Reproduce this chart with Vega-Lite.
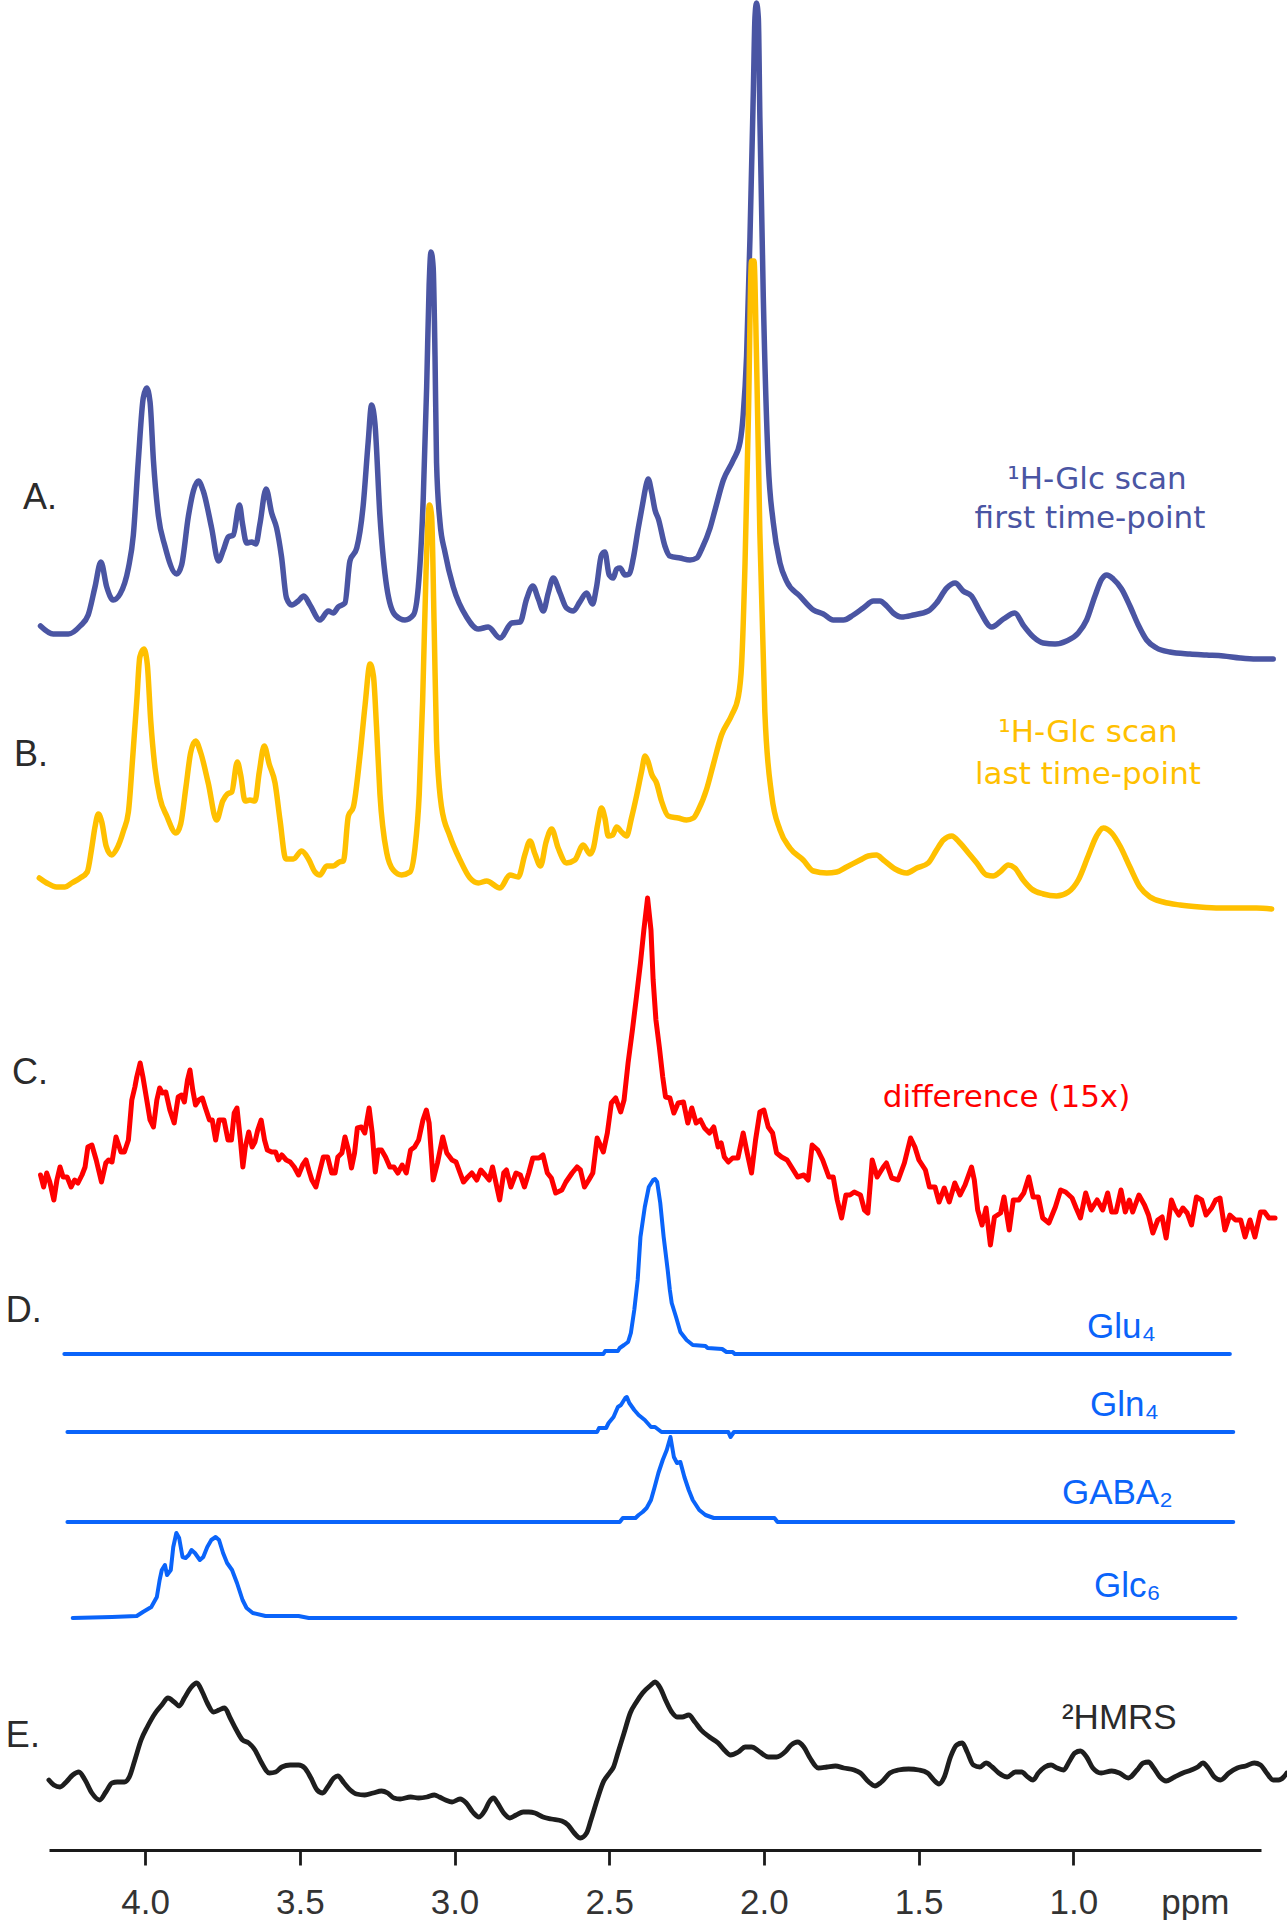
{
  "$schema": "https://vega.github.io/schema/vega-lite/v6.json",
  "autosize": {"type": "none"},
  "padding": {"left": 49, "top": 0, "right": 26, "bottom": 70},
  "width": 1212,
  "height": 1850,
  "background": "white",
  "config": {"view": {"stroke": null}, "font": "Liberation Sans"},
  "datasets": {
    "A": [{"ppm":4.338,"signal":122.4},{"ppm":4.297,"signal":121.6},{"ppm":4.248,"signal":121.6},{"ppm":4.210,"signal":122.4},{"ppm":4.184,"signal":123.5},{"ppm":4.162,"signal":126.3},{"ppm":4.143,"signal":128.8},{"ppm":4.124,"signal":126.3},{"ppm":4.103,"signal":125.0},{"ppm":4.081,"signal":125.6},{"ppm":4.054,"signal":128.2},{"ppm":4.038,"signal":131.5},{"ppm":4.022,"signal":138.9},{"ppm":4.006,"signal":145.2},{"ppm":3.995,"signal":146.2},{"ppm":3.984,"signal":144.8},{"ppm":3.973,"signal":138.9},{"ppm":3.957,"signal":133.4},{"ppm":3.936,"signal":130.4},{"ppm":3.898,"signal":127.6},{"ppm":3.882,"signal":128.5},{"ppm":3.860,"signal":133.4},{"ppm":3.844,"signal":135.9},{"ppm":3.828,"signal":136.9},{"ppm":3.812,"signal":135.9},{"ppm":3.785,"signal":132.2},{"ppm":3.763,"signal":128.9},{"ppm":3.747,"signal":130.0},{"ppm":3.731,"signal":131.3},{"ppm":3.715,"signal":131.5},{"ppm":3.695,"signal":134.5},{"ppm":3.685,"signal":132.6},{"ppm":3.672,"signal":130.7},{"ppm":3.656,"signal":130.8},{"ppm":3.642,"signal":130.6},{"ppm":3.629,"signal":132.6},{"ppm":3.609,"signal":136.1},{"ppm":3.591,"signal":133.7},{"ppm":3.575,"signal":132.2},{"ppm":3.559,"signal":129.3},{"ppm":3.543,"signal":125.2},{"ppm":3.526,"signal":124.5},{"ppm":3.505,"signal":124.9},{"ppm":3.487,"signal":125.4},{"ppm":3.467,"signal":124.5},{"ppm":3.435,"signal":123.0},{"ppm":3.408,"signal":123.9},{"ppm":3.392,"signal":123.7},{"ppm":3.376,"signal":124.3},{"ppm":3.354,"signal":124.7},{"ppm":3.338,"signal":128.9},{"ppm":3.316,"signal":130.2},{"ppm":3.295,"signal":134.5},{"ppm":3.279,"signal":140.8},{"ppm":3.268,"signal":144.5},{"ppm":3.257,"signal":142.6},{"ppm":3.241,"signal":133.4},{"ppm":3.219,"signal":126.3},{"ppm":3.192,"signal":123.5},{"ppm":3.160,"signal":123.0},{"ppm":3.133,"signal":123.5},{"ppm":3.117,"signal":126.3},{"ppm":3.101,"signal":135.2},{"ppm":3.090,"signal":146.3},{"ppm":3.082,"signal":156.5},{"ppm":3.076,"signal":159.8},{"ppm":3.069,"signal":158.3},{"ppm":3.063,"signal":149.4},{"ppm":3.058,"signal":138.7},{"ppm":3.047,"signal":132.8},{"ppm":3.031,"signal":129.8},{"ppm":3.004,"signal":126.3},{"ppm":2.961,"signal":123.3},{"ppm":2.923,"signal":122.1},{"ppm":2.891,"signal":122.3},{"ppm":2.853,"signal":121.2},{"ppm":2.815,"signal":122.7},{"ppm":2.788,"signal":122.8},{"ppm":2.767,"signal":125.1},{"ppm":2.747,"signal":126.4},{"ppm":2.729,"signal":125.1},{"ppm":2.713,"signal":123.9},{"ppm":2.697,"signal":125.7},{"ppm":2.681,"signal":127.2},{"ppm":2.659,"signal":125.7},{"ppm":2.638,"signal":124.2},{"ppm":2.616,"signal":123.9},{"ppm":2.595,"signal":124.8},{"ppm":2.573,"signal":125.7},{"ppm":2.554,"signal":124.6},{"ppm":2.541,"signal":126.3},{"ppm":2.525,"signal":129.5},{"ppm":2.514,"signal":129.8},{"ppm":2.500,"signal":127.5},{"ppm":2.487,"signal":127.2},{"ppm":2.476,"signal":128.1},{"ppm":2.465,"signal":128.2},{"ppm":2.449,"signal":127.5},{"ppm":2.435,"signal":127.6},{"ppm":2.422,"signal":129.2},{"ppm":2.406,"signal":132.2},{"ppm":2.392,"signal":134.6},{"ppm":2.379,"signal":136.7},{"ppm":2.374,"signal":137.1},{"ppm":2.363,"signal":135.8},{"ppm":2.352,"signal":134.0},{"ppm":2.341,"signal":133.1},{"ppm":2.320,"signal":130.4},{"ppm":2.304,"signal":129.4},{"ppm":2.271,"signal":129.2},{"ppm":2.239,"signal":129.0},{"ppm":2.217,"signal":129.2},{"ppm":2.201,"signal":130.1},{"ppm":2.174,"signal":132.2},{"ppm":2.158,"signal":134.0},{"ppm":2.131,"signal":137.0},{"ppm":2.099,"signal":139.0},{"ppm":2.077,"signal":140.8},{"ppm":2.067,"signal":143.5},{"ppm":2.056,"signal":149.4},{"ppm":2.045,"signal":161.3},{"ppm":2.034,"signal":176.1},{"ppm":2.029,"signal":183.2},{"ppm":2.024,"signal":184.7},{"ppm":2.018,"signal":183.2},{"ppm":2.013,"signal":173.1},{"ppm":2.002,"signal":155.3},{"ppm":1.986,"signal":138.7},{"ppm":1.970,"signal":132.8},{"ppm":1.948,"signal":128.7},{"ppm":1.927,"signal":126.9},{"ppm":1.884,"signal":125.4},{"ppm":1.840,"signal":124.0},{"ppm":1.808,"signal":123.6},{"ppm":1.776,"signal":123.0},{"ppm":1.743,"signal":123.0},{"ppm":1.711,"signal":123.5},{"ppm":1.679,"signal":124.2},{"ppm":1.646,"signal":124.9},{"ppm":1.625,"signal":124.9},{"ppm":1.603,"signal":124.4},{"ppm":1.582,"signal":123.7},{"ppm":1.555,"signal":123.3},{"ppm":1.517,"signal":123.5},{"ppm":1.469,"signal":123.9},{"ppm":1.442,"signal":124.7},{"ppm":1.409,"signal":126.2},{"ppm":1.382,"signal":126.7},{"ppm":1.356,"signal":125.9},{"ppm":1.329,"signal":125.4},{"ppm":1.302,"signal":123.9},{"ppm":1.264,"signal":122.3},{"ppm":1.226,"signal":123.1},{"ppm":1.189,"signal":123.7},{"ppm":1.162,"signal":122.5},{"ppm":1.129,"signal":121.3},{"ppm":1.097,"signal":120.7},{"ppm":1.059,"signal":120.6},{"ppm":1.022,"signal":120.9},{"ppm":0.984,"signal":121.7},{"ppm":0.957,"signal":123.0},{"ppm":0.930,"signal":125.4},{"ppm":0.908,"signal":127.1},{"ppm":0.892,"signal":127.5},{"ppm":0.871,"signal":127.1},{"ppm":0.844,"signal":126.1},{"ppm":0.817,"signal":124.4},{"ppm":0.790,"signal":122.5},{"ppm":0.763,"signal":121.0},{"ppm":0.731,"signal":120.2},{"ppm":0.688,"signal":119.8},{"ppm":0.623,"signal":119.6},{"ppm":0.569,"signal":119.5},{"ppm":0.515,"signal":119.4},{"ppm":0.461,"signal":119.2},{"ppm":0.408,"signal":119.1},{"ppm":0.354,"signal":119.1}],
    "B": [{"ppm":4.342,"signal":97.2},{"ppm":4.318,"signal":96.7},{"ppm":4.286,"signal":96.3},{"ppm":4.259,"signal":96.3},{"ppm":4.237,"signal":96.7},{"ppm":4.210,"signal":97.2},{"ppm":4.187,"signal":97.8},{"ppm":4.173,"signal":100.1},{"ppm":4.162,"signal":102.3},{"ppm":4.151,"signal":103.6},{"ppm":4.140,"signal":102.8},{"ppm":4.126,"signal":100.4},{"ppm":4.108,"signal":99.5},{"ppm":4.092,"signal":100.1},{"ppm":4.070,"signal":101.9},{"ppm":4.054,"signal":103.8},{"ppm":4.040,"signal":109.3},{"ppm":4.027,"signal":114.9},{"ppm":4.017,"signal":119.3},{"ppm":4.004,"signal":120.1},{"ppm":3.993,"signal":118.6},{"ppm":3.982,"signal":113.0},{"ppm":3.968,"signal":108.2},{"ppm":3.952,"signal":105.2},{"ppm":3.930,"signal":103.4},{"ppm":3.900,"signal":101.7},{"ppm":3.885,"signal":102.6},{"ppm":3.868,"signal":106.3},{"ppm":3.853,"signal":109.7},{"ppm":3.837,"signal":110.9},{"ppm":3.820,"signal":109.7},{"ppm":3.796,"signal":106.7},{"ppm":3.769,"signal":103.0},{"ppm":3.749,"signal":104.9},{"ppm":3.734,"signal":105.6},{"ppm":3.720,"signal":105.8},{"ppm":3.702,"signal":108.8},{"ppm":3.691,"signal":107.5},{"ppm":3.677,"signal":104.9},{"ppm":3.661,"signal":105.0},{"ppm":3.645,"signal":104.9},{"ppm":3.631,"signal":107.8},{"ppm":3.615,"signal":110.4},{"ppm":3.599,"signal":108.6},{"ppm":3.580,"signal":106.7},{"ppm":3.564,"signal":103.0},{"ppm":3.545,"signal":99.1},{"ppm":3.521,"signal":99.1},{"ppm":3.494,"signal":99.9},{"ppm":3.472,"signal":99.1},{"ppm":3.451,"signal":97.8},{"ppm":3.435,"signal":97.5},{"ppm":3.413,"signal":98.4},{"ppm":3.392,"signal":98.4},{"ppm":3.372,"signal":98.8},{"ppm":3.359,"signal":98.9},{"ppm":3.343,"signal":103.4},{"ppm":3.327,"signal":104.3},{"ppm":3.306,"signal":109.3},{"ppm":3.289,"signal":114.5},{"ppm":3.273,"signal":118.6},{"ppm":3.262,"signal":117.4},{"ppm":3.252,"signal":112.3},{"ppm":3.241,"signal":105.6},{"ppm":3.219,"signal":99.7},{"ppm":3.198,"signal":98.0},{"ppm":3.171,"signal":97.5},{"ppm":3.144,"signal":97.8},{"ppm":3.128,"signal":100.1},{"ppm":3.114,"signal":105.6},{"ppm":3.103,"signal":114.9},{"ppm":3.092,"signal":127.8},{"ppm":3.081,"signal":134.5},{"ppm":3.074,"signal":133.4},{"ppm":3.066,"signal":122.7},{"ppm":3.058,"signal":110.9},{"ppm":3.042,"signal":104.3},{"ppm":3.015,"signal":101.4},{"ppm":2.982,"signal":99.0},{"ppm":2.950,"signal":97.2},{"ppm":2.923,"signal":96.7},{"ppm":2.896,"signal":96.9},{"ppm":2.853,"signal":96.2},{"ppm":2.821,"signal":97.5},{"ppm":2.794,"signal":97.3},{"ppm":2.772,"signal":99.6},{"ppm":2.756,"signal":100.9},{"ppm":2.740,"signal":99.6},{"ppm":2.722,"signal":98.4},{"ppm":2.704,"signal":100.8},{"ppm":2.686,"signal":102.1},{"ppm":2.665,"signal":100.2},{"ppm":2.638,"signal":98.7},{"ppm":2.611,"signal":99.0},{"ppm":2.584,"signal":100.5},{"ppm":2.562,"signal":99.6},{"ppm":2.551,"signal":100.2},{"ppm":2.537,"signal":102.6},{"ppm":2.525,"signal":104.2},{"ppm":2.514,"signal":103.2},{"ppm":2.503,"signal":101.4},{"ppm":2.489,"signal":101.5},{"ppm":2.476,"signal":102.3},{"ppm":2.460,"signal":101.8},{"ppm":2.444,"signal":101.4},{"ppm":2.428,"signal":103.2},{"ppm":2.411,"signal":105.5},{"ppm":2.395,"signal":107.9},{"ppm":2.384,"signal":109.4},{"ppm":2.374,"signal":108.8},{"ppm":2.363,"signal":107.6},{"ppm":2.347,"signal":106.7},{"ppm":2.331,"signal":104.9},{"ppm":2.309,"signal":103.4},{"ppm":2.277,"signal":103.2},{"ppm":2.250,"signal":103.0},{"ppm":2.228,"signal":103.2},{"ppm":2.212,"signal":104.0},{"ppm":2.185,"signal":106.1},{"ppm":2.164,"signal":108.5},{"ppm":2.137,"signal":111.5},{"ppm":2.104,"signal":113.5},{"ppm":2.083,"signal":115.3},{"ppm":2.072,"signal":118.6},{"ppm":2.061,"signal":128.7},{"ppm":2.050,"signal":143.5},{"ppm":2.040,"signal":158.9},{"ppm":2.032,"signal":158.9},{"ppm":2.024,"signal":149.4},{"ppm":2.013,"signal":131.6},{"ppm":1.997,"signal":113.8},{"ppm":1.975,"signal":105.5},{"ppm":1.948,"signal":102.0},{"ppm":1.916,"signal":100.2},{"ppm":1.873,"signal":99.0},{"ppm":1.840,"signal":97.9},{"ppm":1.797,"signal":97.7},{"ppm":1.765,"signal":97.8},{"ppm":1.733,"signal":98.3},{"ppm":1.689,"signal":99.0},{"ppm":1.663,"signal":99.4},{"ppm":1.636,"signal":99.5},{"ppm":1.614,"signal":99.0},{"ppm":1.576,"signal":98.1},{"ppm":1.539,"signal":97.7},{"ppm":1.506,"signal":98.2},{"ppm":1.469,"signal":98.7},{"ppm":1.442,"signal":100.0},{"ppm":1.420,"signal":101.0},{"ppm":1.393,"signal":101.4},{"ppm":1.366,"signal":100.7},{"ppm":1.339,"signal":99.7},{"ppm":1.312,"signal":98.7},{"ppm":1.280,"signal":97.5},{"ppm":1.259,"signal":97.4},{"ppm":1.237,"signal":97.8},{"ppm":1.210,"signal":98.5},{"ppm":1.189,"signal":98.2},{"ppm":1.162,"signal":97.0},{"ppm":1.135,"signal":96.1},{"ppm":1.097,"signal":95.6},{"ppm":1.054,"signal":95.4},{"ppm":1.016,"signal":95.8},{"ppm":0.984,"signal":97.0},{"ppm":0.952,"signal":99.4},{"ppm":0.925,"signal":101.4},{"ppm":0.903,"signal":102.2},{"ppm":0.876,"signal":101.7},{"ppm":0.849,"signal":100.4},{"ppm":0.817,"signal":98.3},{"ppm":0.785,"signal":96.3},{"ppm":0.752,"signal":95.3},{"ppm":0.709,"signal":94.8},{"ppm":0.655,"signal":94.5},{"ppm":0.591,"signal":94.3},{"ppm":0.526,"signal":94.2},{"ppm":0.461,"signal":94.2},{"ppm":0.408,"signal":94.2},{"ppm":0.359,"signal":94.1}],
    "C": [{"ppm":4.338,"signal":67.5},{"ppm":4.328,"signal":66.3},{"ppm":4.318,"signal":67.7},{"ppm":4.308,"signal":66.8},{"ppm":4.295,"signal":65.0},{"ppm":4.285,"signal":67.0},{"ppm":4.275,"signal":68.3},{"ppm":4.265,"signal":67.3},{"ppm":4.252,"signal":67.3},{"ppm":4.239,"signal":66.3},{"ppm":4.228,"signal":67.0},{"ppm":4.217,"signal":66.7},{"ppm":4.204,"signal":67.5},{"ppm":4.194,"signal":68.3},{"ppm":4.185,"signal":70.3},{"ppm":4.172,"signal":70.5},{"ppm":4.158,"signal":69.0},{"ppm":4.141,"signal":66.8},{"ppm":4.127,"signal":68.7},{"ppm":4.118,"signal":69.0},{"ppm":4.107,"signal":68.8},{"ppm":4.094,"signal":71.3},{"ppm":4.078,"signal":69.8},{"ppm":4.067,"signal":69.8},{"ppm":4.054,"signal":71.0},{"ppm":4.043,"signal":75.0},{"ppm":4.033,"signal":76.3},{"ppm":4.027,"signal":77.3},{"ppm":4.016,"signal":78.7},{"ppm":4.007,"signal":77.3},{"ppm":3.993,"signal":74.7},{"ppm":3.984,"signal":73.0},{"ppm":3.973,"signal":72.3},{"ppm":3.962,"signal":75.0},{"ppm":3.953,"signal":76.2},{"ppm":3.944,"signal":75.7},{"ppm":3.933,"signal":75.8},{"ppm":3.920,"signal":74.0},{"ppm":3.906,"signal":72.7},{"ppm":3.893,"signal":75.3},{"ppm":3.882,"signal":75.5},{"ppm":3.873,"signal":74.8},{"ppm":3.863,"signal":77.0},{"ppm":3.855,"signal":78.0},{"ppm":3.846,"signal":76.0},{"ppm":3.837,"signal":74.5},{"ppm":3.826,"signal":75.0},{"ppm":3.815,"signal":75.2},{"ppm":3.806,"signal":74.3},{"ppm":3.792,"signal":73.0},{"ppm":3.783,"signal":73.0},{"ppm":3.772,"signal":71.0},{"ppm":3.761,"signal":73.0},{"ppm":3.745,"signal":73.0},{"ppm":3.732,"signal":71.0},{"ppm":3.721,"signal":71.0},{"ppm":3.712,"signal":73.7},{"ppm":3.703,"signal":74.2},{"ppm":3.692,"signal":71.0},{"ppm":3.684,"signal":68.3},{"ppm":3.676,"signal":70.3},{"ppm":3.665,"signal":71.8},{"ppm":3.654,"signal":70.3},{"ppm":3.645,"signal":70.8},{"ppm":3.636,"signal":72.0},{"ppm":3.625,"signal":73.0},{"ppm":3.614,"signal":71.0},{"ppm":3.605,"signal":70.0},{"ppm":3.591,"signal":69.8},{"ppm":3.578,"signal":69.8},{"ppm":3.569,"signal":69.0},{"ppm":3.558,"signal":69.5},{"ppm":3.544,"signal":69.0},{"ppm":3.531,"signal":68.8},{"ppm":3.518,"signal":68.3},{"ppm":3.504,"signal":67.5},{"ppm":3.491,"signal":68.5},{"ppm":3.480,"signal":69.0},{"ppm":3.471,"signal":68.0},{"ppm":3.461,"signal":67.0},{"ppm":3.448,"signal":66.3},{"ppm":3.437,"signal":67.7},{"ppm":3.424,"signal":69.3},{"ppm":3.410,"signal":69.3},{"ppm":3.397,"signal":67.7},{"ppm":3.386,"signal":67.7},{"ppm":3.377,"signal":69.3},{"ppm":3.364,"signal":69.7},{"ppm":3.354,"signal":71.3},{"ppm":3.343,"signal":70.0},{"ppm":3.333,"signal":68.2},{"ppm":3.323,"signal":69.7},{"ppm":3.314,"signal":72.2},{"ppm":3.301,"signal":72.3},{"ppm":3.290,"signal":71.7},{"ppm":3.276,"signal":74.2},{"ppm":3.266,"signal":71.7},{"ppm":3.256,"signal":67.8},{"ppm":3.247,"signal":70.0},{"ppm":3.236,"signal":70.0},{"ppm":3.223,"signal":69.3},{"ppm":3.209,"signal":68.3},{"ppm":3.196,"signal":68.3},{"ppm":3.183,"signal":67.7},{"ppm":3.169,"signal":68.5},{"ppm":3.156,"signal":67.7},{"ppm":3.142,"signal":70.0},{"ppm":3.129,"signal":70.3},{"ppm":3.116,"signal":71.0},{"ppm":3.102,"signal":73.0},{"ppm":3.091,"signal":74.0},{"ppm":3.082,"signal":72.7},{"ppm":3.069,"signal":67.0},{"ppm":3.055,"signal":68.7},{"ppm":3.038,"signal":71.3},{"ppm":3.025,"signal":69.7},{"ppm":3.008,"signal":69.0},{"ppm":2.995,"signal":68.8},{"ppm":2.982,"signal":67.7},{"ppm":2.971,"signal":66.8},{"ppm":2.957,"signal":67.3},{"ppm":2.944,"signal":67.7},{"ppm":2.928,"signal":67.0},{"ppm":2.915,"signal":68.0},{"ppm":2.901,"signal":67.5},{"ppm":2.888,"signal":67.0},{"ppm":2.877,"signal":68.3},{"ppm":2.868,"signal":67.0},{"ppm":2.854,"signal":65.0},{"ppm":2.841,"signal":67.7},{"ppm":2.832,"signal":68.0},{"ppm":2.818,"signal":66.3},{"ppm":2.801,"signal":67.7},{"ppm":2.787,"signal":67.5},{"ppm":2.774,"signal":66.3},{"ppm":2.760,"signal":67.7},{"ppm":2.747,"signal":69.2},{"ppm":2.727,"signal":69.2},{"ppm":2.714,"signal":69.5},{"ppm":2.700,"signal":67.7},{"ppm":2.687,"signal":67.2},{"ppm":2.673,"signal":65.7},{"ppm":2.653,"signal":66.0},{"ppm":2.640,"signal":66.8},{"ppm":2.620,"signal":67.7},{"ppm":2.604,"signal":68.3},{"ppm":2.593,"signal":68.0},{"ppm":2.580,"signal":66.3},{"ppm":2.566,"signal":67.0},{"ppm":2.553,"signal":67.7},{"ppm":2.539,"signal":71.2},{"ppm":2.519,"signal":69.8},{"ppm":2.506,"signal":71.7},{"ppm":2.493,"signal":74.7},{"ppm":2.479,"signal":75.2},{"ppm":2.463,"signal":73.8},{"ppm":2.452,"signal":75.0},{"ppm":2.439,"signal":78.7},{"ppm":2.425,"signal":82.0},{"ppm":2.412,"signal":85.3},{"ppm":2.399,"signal":88.7},{"ppm":2.388,"signal":92.0},{"ppm":2.376,"signal":95.2},{"ppm":2.365,"signal":92.0},{"ppm":2.358,"signal":87.0},{"ppm":2.349,"signal":83.0},{"ppm":2.338,"signal":80.3},{"ppm":2.327,"signal":77.3},{"ppm":2.318,"signal":75.3},{"ppm":2.304,"signal":75.2},{"ppm":2.291,"signal":73.7},{"ppm":2.277,"signal":74.7},{"ppm":2.260,"signal":74.8},{"ppm":2.246,"signal":72.7},{"ppm":2.233,"signal":74.2},{"ppm":2.219,"signal":72.7},{"ppm":2.205,"signal":73.0},{"ppm":2.192,"signal":72.2},{"ppm":2.176,"signal":71.7},{"ppm":2.162,"signal":72.3},{"ppm":2.148,"signal":70.3},{"ppm":2.138,"signal":70.7},{"ppm":2.128,"signal":69.3},{"ppm":2.115,"signal":68.8},{"ppm":2.101,"signal":69.2},{"ppm":2.084,"signal":69.2},{"ppm":2.067,"signal":71.7},{"ppm":2.054,"signal":69.7},{"ppm":2.040,"signal":67.7},{"ppm":2.027,"signal":71.0},{"ppm":2.013,"signal":73.8},{"ppm":2.000,"signal":74.0},{"ppm":1.986,"signal":72.3},{"ppm":1.972,"signal":71.7},{"ppm":1.959,"signal":69.7},{"ppm":1.943,"signal":69.3},{"ppm":1.925,"signal":69.0},{"ppm":1.905,"signal":68.0},{"ppm":1.891,"signal":67.3},{"ppm":1.871,"signal":67.5},{"ppm":1.857,"signal":67.0},{"ppm":1.844,"signal":70.5},{"ppm":1.826,"signal":70.0},{"ppm":1.810,"signal":69.0},{"ppm":1.790,"signal":67.3},{"ppm":1.776,"signal":67.3},{"ppm":1.763,"signal":65.0},{"ppm":1.749,"signal":63.2},{"ppm":1.735,"signal":65.5},{"ppm":1.722,"signal":65.5},{"ppm":1.708,"signal":65.8},{"ppm":1.688,"signal":65.5},{"ppm":1.675,"signal":64.0},{"ppm":1.664,"signal":63.7},{"ppm":1.650,"signal":69.0},{"ppm":1.634,"signal":67.3},{"ppm":1.614,"signal":68.3},{"ppm":1.604,"signal":68.7},{"ppm":1.587,"signal":67.2},{"ppm":1.566,"signal":67.0},{"ppm":1.546,"signal":68.7},{"ppm":1.526,"signal":71.2},{"ppm":1.512,"signal":70.3},{"ppm":1.499,"signal":69.0},{"ppm":1.478,"signal":68.0},{"ppm":1.465,"signal":66.3},{"ppm":1.447,"signal":66.3},{"ppm":1.434,"signal":64.8},{"ppm":1.417,"signal":66.2},{"ppm":1.401,"signal":64.8},{"ppm":1.383,"signal":66.7},{"ppm":1.366,"signal":65.5},{"ppm":1.350,"signal":66.5},{"ppm":1.329,"signal":68.3},{"ppm":1.320,"signal":67.0},{"ppm":1.309,"signal":64.0},{"ppm":1.295,"signal":62.5},{"ppm":1.282,"signal":64.2},{"ppm":1.268,"signal":60.5},{"ppm":1.255,"signal":63.3},{"ppm":1.235,"signal":63.7},{"ppm":1.224,"signal":65.3},{"ppm":1.207,"signal":62.0},{"ppm":1.194,"signal":65.0},{"ppm":1.176,"signal":65.0},{"ppm":1.160,"signal":65.7},{"ppm":1.144,"signal":67.3},{"ppm":1.130,"signal":65.3},{"ppm":1.113,"signal":65.3},{"ppm":1.099,"signal":63.2},{"ppm":1.079,"signal":62.7},{"ppm":1.058,"signal":64.3},{"ppm":1.041,"signal":66.0},{"ppm":1.025,"signal":65.8},{"ppm":1.004,"signal":65.2},{"ppm":0.991,"signal":64.2},{"ppm":0.977,"signal":63.2},{"ppm":0.960,"signal":65.7},{"ppm":0.943,"signal":64.0},{"ppm":0.923,"signal":65.0},{"ppm":0.905,"signal":64.0},{"ppm":0.889,"signal":65.7},{"ppm":0.876,"signal":63.8},{"ppm":0.862,"signal":63.8},{"ppm":0.846,"signal":66.0},{"ppm":0.832,"signal":63.8},{"ppm":0.819,"signal":65.0},{"ppm":0.808,"signal":63.8},{"ppm":0.788,"signal":65.5},{"ppm":0.770,"signal":64.5},{"ppm":0.757,"signal":63.5},{"ppm":0.743,"signal":61.7},{"ppm":0.727,"signal":63.0},{"ppm":0.713,"signal":63.3},{"ppm":0.700,"signal":61.2},{"ppm":0.683,"signal":65.0},{"ppm":0.673,"signal":64.2},{"ppm":0.659,"signal":63.5},{"ppm":0.646,"signal":64.2},{"ppm":0.632,"signal":63.7},{"ppm":0.618,"signal":62.5},{"ppm":0.602,"signal":65.3},{"ppm":0.585,"signal":65.0},{"ppm":0.571,"signal":63.5},{"ppm":0.553,"signal":64.2},{"ppm":0.540,"signal":65.0},{"ppm":0.526,"signal":65.2},{"ppm":0.510,"signal":62.0},{"ppm":0.494,"signal":63.5},{"ppm":0.476,"signal":63.0},{"ppm":0.459,"signal":63.0},{"ppm":0.445,"signal":61.3},{"ppm":0.429,"signal":63.0},{"ppm":0.413,"signal":61.3},{"ppm":0.395,"signal":63.8},{"ppm":0.382,"signal":63.8},{"ppm":0.368,"signal":63.2},{"ppm":0.348,"signal":63.2}],
    "D": [{"compound":"Glu4","ppm":4.261,"signal":49.6},{"compound":"Glu4","ppm":2.519,"signal":49.6},{"compound":"Glu4","ppm":2.513,"signal":49.9},{"compound":"Glu4","ppm":2.472,"signal":49.9},{"compound":"Glu4","ppm":2.466,"signal":50.2},{"compound":"Glu4","ppm":2.452,"signal":50.5},{"compound":"Glu4","ppm":2.439,"signal":50.8},{"compound":"Glu4","ppm":2.430,"signal":51.7},{"compound":"Glu4","ppm":2.419,"signal":54.0},{"compound":"Glu4","ppm":2.408,"signal":57.0},{"compound":"Glu4","ppm":2.399,"signal":61.3},{"compound":"Glu4","ppm":2.385,"signal":64.3},{"compound":"Glu4","ppm":2.372,"signal":66.3},{"compound":"Glu4","ppm":2.358,"signal":67.0},{"compound":"Glu4","ppm":2.352,"signal":67.1},{"compound":"Glu4","ppm":2.345,"signal":66.8},{"compound":"Glu4","ppm":2.335,"signal":64.7},{"compound":"Glu4","ppm":2.324,"signal":61.3},{"compound":"Glu4","ppm":2.311,"signal":58.0},{"compound":"Glu4","ppm":2.304,"signal":56.0},{"compound":"Glu4","ppm":2.298,"signal":54.7},{"compound":"Glu4","ppm":2.284,"signal":53.3},{"compound":"Glu4","ppm":2.270,"signal":51.8},{"compound":"Glu4","ppm":2.250,"signal":51.0},{"compound":"Glu4","ppm":2.230,"signal":50.5},{"compound":"Glu4","ppm":2.189,"signal":50.4},{"compound":"Glu4","ppm":2.182,"signal":50.2},{"compound":"Glu4","ppm":2.135,"signal":50.1},{"compound":"Glu4","ppm":2.121,"signal":49.8},{"compound":"Glu4","ppm":2.101,"signal":49.8},{"compound":"Glu4","ppm":2.094,"signal":49.6},{"compound":"Glu4","ppm":0.494,"signal":49.6},
      {"compound":"Gln4","ppm":4.251,"signal":41.8},{"compound":"Gln4","ppm":2.539,"signal":41.8},{"compound":"Gln4","ppm":2.533,"signal":42.2},{"compound":"Gln4","ppm":2.510,"signal":42.2},{"compound":"Gln4","ppm":2.502,"signal":42.7},{"compound":"Gln4","ppm":2.486,"signal":43.3},{"compound":"Gln4","ppm":2.472,"signal":44.3},{"compound":"Gln4","ppm":2.462,"signal":44.5},{"compound":"Gln4","ppm":2.448,"signal":45.2},{"compound":"Gln4","ppm":2.443,"signal":45.3},{"compound":"Gln4","ppm":2.435,"signal":44.7},{"compound":"Gln4","ppm":2.419,"signal":44.0},{"compound":"Gln4","ppm":2.405,"signal":43.5},{"compound":"Gln4","ppm":2.385,"signal":43.0},{"compound":"Gln4","ppm":2.365,"signal":42.3},{"compound":"Gln4","ppm":2.352,"signal":42.3},{"compound":"Gln4","ppm":2.331,"signal":41.8},{"compound":"Gln4","ppm":2.115,"signal":41.8},{"compound":"Gln4","ppm":2.108,"signal":41.3},{"compound":"Gln4","ppm":2.097,"signal":41.8},{"compound":"Gln4","ppm":0.483,"signal":41.8},
      {"compound":"GABA2","ppm":4.251,"signal":32.8},{"compound":"GABA2","ppm":2.466,"signal":32.8},{"compound":"GABA2","ppm":2.456,"signal":33.2},{"compound":"GABA2","ppm":2.415,"signal":33.2},{"compound":"GABA2","ppm":2.405,"signal":33.5},{"compound":"GABA2","ppm":2.392,"signal":33.8},{"compound":"GABA2","ppm":2.379,"signal":34.2},{"compound":"GABA2","ppm":2.365,"signal":35.0},{"compound":"GABA2","ppm":2.354,"signal":36.2},{"compound":"GABA2","ppm":2.341,"signal":37.7},{"compound":"GABA2","ppm":2.327,"signal":39.0},{"compound":"GABA2","ppm":2.314,"signal":40.0},{"compound":"GABA2","ppm":2.302,"signal":41.3},{"compound":"GABA2","ppm":2.291,"signal":39.3},{"compound":"GABA2","ppm":2.281,"signal":38.7},{"compound":"GABA2","ppm":2.270,"signal":38.8},{"compound":"GABA2","ppm":2.257,"signal":37.3},{"compound":"GABA2","ppm":2.243,"signal":36.0},{"compound":"GABA2","ppm":2.230,"signal":35.0},{"compound":"GABA2","ppm":2.209,"signal":34.0},{"compound":"GABA2","ppm":2.189,"signal":33.5},{"compound":"GABA2","ppm":2.162,"signal":33.2},{"compound":"GABA2","ppm":1.966,"signal":33.2},{"compound":"GABA2","ppm":1.956,"signal":32.8},{"compound":"GABA2","ppm":0.483,"signal":32.8},
      {"compound":"Glc6","ppm":4.234,"signal":23.2},{"compound":"Glc6","ppm":4.107,"signal":23.3},{"compound":"Glc6","ppm":4.027,"signal":23.4},{"compound":"Glc6","ppm":4.007,"signal":23.8},{"compound":"Glc6","ppm":3.980,"signal":24.3},{"compound":"Glc6","ppm":3.962,"signal":25.3},{"compound":"Glc6","ppm":3.953,"signal":27.0},{"compound":"Glc6","ppm":3.946,"signal":28.0},{"compound":"Glc6","ppm":3.936,"signal":28.5},{"compound":"Glc6","ppm":3.929,"signal":27.5},{"compound":"Glc6","ppm":3.917,"signal":28.0},{"compound":"Glc6","ppm":3.909,"signal":30.3},{"compound":"Glc6","ppm":3.899,"signal":31.7},{"compound":"Glc6","ppm":3.890,"signal":31.2},{"compound":"Glc6","ppm":3.879,"signal":29.3},{"compound":"Glc6","ppm":3.869,"signal":29.2},{"compound":"Glc6","ppm":3.859,"signal":29.5},{"compound":"Glc6","ppm":3.850,"signal":30.0},{"compound":"Glc6","ppm":3.839,"signal":29.7},{"compound":"Glc6","ppm":3.823,"signal":29.0},{"compound":"Glc6","ppm":3.812,"signal":29.3},{"compound":"Glc6","ppm":3.799,"signal":30.3},{"compound":"Glc6","ppm":3.786,"signal":31.0},{"compound":"Glc6","ppm":3.772,"signal":31.3},{"compound":"Glc6","ppm":3.761,"signal":31.0},{"compound":"Glc6","ppm":3.748,"signal":29.7},{"compound":"Glc6","ppm":3.735,"signal":28.7},{"compound":"Glc6","ppm":3.719,"signal":28.0},{"compound":"Glc6","ppm":3.703,"signal":26.7},{"compound":"Glc6","ppm":3.685,"signal":25.0},{"compound":"Glc6","ppm":3.672,"signal":24.2},{"compound":"Glc6","ppm":3.652,"signal":23.7},{"compound":"Glc6","ppm":3.611,"signal":23.4},{"compound":"Glc6","ppm":3.504,"signal":23.4},{"compound":"Glc6","ppm":3.471,"signal":23.2},{"compound":"Glc6","ppm":0.476,"signal":23.2}],
    "E": [{"ppm":4.311,"signal":7.0},{"ppm":4.295,"signal":6.5},{"ppm":4.275,"signal":6.3},{"ppm":4.255,"signal":6.8},{"ppm":4.234,"signal":7.5},{"ppm":4.214,"signal":7.8},{"ppm":4.194,"signal":7.0},{"ppm":4.172,"signal":5.7},{"ppm":4.147,"signal":5.0},{"ppm":4.127,"signal":5.8},{"ppm":4.107,"signal":6.7},{"ppm":4.090,"signal":6.8},{"ppm":4.067,"signal":6.8},{"ppm":4.051,"signal":7.3},{"ppm":4.033,"signal":9.0},{"ppm":4.013,"signal":11.0},{"ppm":3.993,"signal":12.3},{"ppm":3.967,"signal":13.7},{"ppm":3.946,"signal":14.5},{"ppm":3.926,"signal":15.2},{"ppm":3.906,"signal":14.8},{"ppm":3.890,"signal":14.4},{"ppm":3.873,"signal":15.2},{"ppm":3.853,"signal":16.2},{"ppm":3.833,"signal":16.7},{"ppm":3.815,"signal":15.8},{"ppm":3.799,"signal":14.7},{"ppm":3.779,"signal":13.8},{"ppm":3.761,"signal":14.0},{"ppm":3.743,"signal":14.2},{"ppm":3.725,"signal":13.2},{"ppm":3.705,"signal":12.0},{"ppm":3.685,"signal":11.0},{"ppm":3.665,"signal":10.7},{"ppm":3.645,"signal":10.0},{"ppm":3.625,"signal":8.8},{"ppm":3.598,"signal":7.7},{"ppm":3.578,"signal":7.8},{"ppm":3.558,"signal":8.3},{"ppm":3.531,"signal":8.5},{"ppm":3.504,"signal":8.5},{"ppm":3.484,"signal":8.2},{"ppm":3.464,"signal":7.2},{"ppm":3.444,"signal":6.0},{"ppm":3.426,"signal":5.7},{"ppm":3.410,"signal":6.3},{"ppm":3.390,"signal":7.2},{"ppm":3.377,"signal":7.4},{"ppm":3.357,"signal":6.7},{"ppm":3.337,"signal":6.0},{"ppm":3.317,"signal":5.6},{"ppm":3.290,"signal":5.5},{"ppm":3.263,"signal":5.7},{"ppm":3.236,"signal":5.9},{"ppm":3.216,"signal":5.7},{"ppm":3.196,"signal":5.2},{"ppm":3.176,"signal":5.1},{"ppm":3.142,"signal":5.3},{"ppm":3.116,"signal":5.2},{"ppm":3.089,"signal":5.3},{"ppm":3.065,"signal":5.5},{"ppm":3.049,"signal":5.3},{"ppm":3.029,"signal":5.0},{"ppm":3.008,"signal":4.8},{"ppm":2.982,"signal":5.1},{"ppm":2.962,"signal":4.7},{"ppm":2.941,"signal":3.8},{"ppm":2.921,"signal":3.3},{"ppm":2.901,"signal":4.0},{"ppm":2.888,"signal":4.8},{"ppm":2.874,"signal":5.2},{"ppm":2.861,"signal":4.7},{"ppm":2.841,"signal":3.7},{"ppm":2.821,"signal":3.2},{"ppm":2.801,"signal":3.5},{"ppm":2.778,"signal":3.8},{"ppm":2.760,"signal":3.8},{"ppm":2.740,"signal":3.7},{"ppm":2.714,"signal":3.3},{"ppm":2.687,"signal":3.1},{"ppm":2.653,"signal":2.9},{"ppm":2.633,"signal":2.5},{"ppm":2.613,"signal":1.7},{"ppm":2.593,"signal":1.2},{"ppm":2.573,"signal":1.7},{"ppm":2.559,"signal":3.0},{"ppm":2.539,"signal":5.0},{"ppm":2.519,"signal":6.8},{"ppm":2.499,"signal":7.7},{"ppm":2.486,"signal":8.3},{"ppm":2.472,"signal":9.7},{"ppm":2.452,"signal":11.7},{"ppm":2.432,"signal":13.7},{"ppm":2.412,"signal":14.8},{"ppm":2.392,"signal":15.7},{"ppm":2.365,"signal":16.5},{"ppm":2.352,"signal":16.8},{"ppm":2.335,"signal":16.2},{"ppm":2.318,"signal":15.0},{"ppm":2.298,"signal":13.8},{"ppm":2.281,"signal":13.3},{"ppm":2.264,"signal":13.3},{"ppm":2.243,"signal":13.5},{"ppm":2.223,"signal":12.8},{"ppm":2.203,"signal":12.0},{"ppm":2.176,"signal":11.3},{"ppm":2.148,"signal":10.7},{"ppm":2.128,"signal":10.0},{"ppm":2.108,"signal":9.5},{"ppm":2.083,"signal":9.8},{"ppm":2.060,"signal":10.3},{"ppm":2.040,"signal":10.3},{"ppm":2.013,"signal":9.8},{"ppm":1.986,"signal":9.3},{"ppm":1.959,"signal":9.3},{"ppm":1.932,"signal":9.8},{"ppm":1.912,"signal":10.5},{"ppm":1.891,"signal":10.8},{"ppm":1.871,"signal":10.3},{"ppm":1.851,"signal":9.2},{"ppm":1.824,"signal":8.2},{"ppm":1.796,"signal":8.3},{"ppm":1.769,"signal":8.4},{"ppm":1.742,"signal":8.2},{"ppm":1.708,"signal":8.0},{"ppm":1.688,"signal":7.7},{"ppm":1.661,"signal":6.8},{"ppm":1.641,"signal":6.4},{"ppm":1.620,"signal":6.8},{"ppm":1.593,"signal":7.7},{"ppm":1.566,"signal":8.0},{"ppm":1.532,"signal":8.1},{"ppm":1.499,"signal":8.0},{"ppm":1.471,"signal":7.7},{"ppm":1.451,"signal":7.0},{"ppm":1.434,"signal":6.6},{"ppm":1.417,"signal":7.3},{"ppm":1.397,"signal":9.3},{"ppm":1.377,"signal":10.5},{"ppm":1.359,"signal":10.7},{"ppm":1.343,"signal":9.8},{"ppm":1.323,"signal":8.5},{"ppm":1.302,"signal":8.3},{"ppm":1.282,"signal":8.7},{"ppm":1.262,"signal":8.3},{"ppm":1.241,"signal":7.7},{"ppm":1.214,"signal":7.3},{"ppm":1.187,"signal":7.8},{"ppm":1.167,"signal":7.8},{"ppm":1.147,"signal":7.3},{"ppm":1.130,"signal":7.0},{"ppm":1.113,"signal":7.7},{"ppm":1.092,"signal":8.3},{"ppm":1.072,"signal":8.5},{"ppm":1.052,"signal":8.2},{"ppm":1.031,"signal":8.0},{"ppm":1.014,"signal":8.8},{"ppm":0.995,"signal":9.7},{"ppm":0.977,"signal":9.9},{"ppm":0.957,"signal":9.3},{"ppm":0.937,"signal":8.2},{"ppm":0.910,"signal":7.7},{"ppm":0.876,"signal":7.9},{"ppm":0.851,"signal":7.7},{"ppm":0.822,"signal":7.2},{"ppm":0.794,"signal":8.0},{"ppm":0.774,"signal":8.7},{"ppm":0.757,"signal":8.8},{"ppm":0.740,"signal":8.2},{"ppm":0.720,"signal":7.3},{"ppm":0.700,"signal":6.9},{"ppm":0.673,"signal":7.3},{"ppm":0.646,"signal":7.7},{"ppm":0.619,"signal":8.0},{"ppm":0.598,"signal":8.3},{"ppm":0.581,"signal":8.7},{"ppm":0.564,"signal":8.2},{"ppm":0.544,"signal":7.3},{"ppm":0.524,"signal":7.0},{"ppm":0.497,"signal":7.7},{"ppm":0.470,"signal":8.2},{"ppm":0.443,"signal":8.4},{"ppm":0.415,"signal":8.7},{"ppm":0.395,"signal":8.5},{"ppm":0.375,"signal":7.7},{"ppm":0.354,"signal":7.0},{"ppm":0.337,"signal":7.0},{"ppm":0.320,"signal":7.3},{"ppm":0.310,"signal":7.7}],
    "labels": [
      {"kind": "panel", "label": "A.", "series": "A", "ppm": 4.395, "signal": 134.1},
      {"kind": "panel", "label": "B.", "series": "B", "ppm": 4.424, "signal": 108.4},
      {"kind": "panel", "label": "C.", "series": "C", "ppm": 4.430, "signal": 76.6},
      {"kind": "panel", "label": "D.", "series": "D", "ppm": 4.450, "signal": 52.8},
      {"kind": "panel", "label": "E.", "series": "E", "ppm": 4.450, "signal": 10.3},
      {"kind": "note", "label": "¹H-Glc scan", "series": "A", "ppm": 0.9235, "signal": 136.15},
      {"kind": "note", "label": "first time-point", "series": "A", "ppm": 0.9462, "signal": 132.2},
      {"kind": "note", "label": "¹H-Glc scan", "series": "B", "ppm": 0.9526, "signal": 110.85},
      {"kind": "note", "label": "last time-point", "series": "B", "ppm": 0.9526, "signal": 106.63},
      {"kind": "note", "label": "difference (15x)", "series": "C", "ppm": 1.2157, "signal": 74.33},
      {"kind": "name", "label": "Glu₄", "series": "D", "ppm": 0.9558, "signal": 51.17},
      {"kind": "name", "label": "Gln₄", "series": "D", "ppm": 0.9462, "signal": 43.4},
      {"kind": "name", "label": "GABA₂", "series": "D", "ppm": 1.0367, "signal": 34.57},
      {"kind": "name", "label": "Glc₆", "series": "D", "ppm": 0.9332, "signal": 25.33},
      {"kind": "name", "label": "²HMRS", "series": "E", "ppm": 1.0367, "signal": 12.07}
    ]
  },
  "encoding": {
    "x": {"field": "ppm", "type": "quantitative",
      "scale": {"domain": [0.3934, 4.3106], "reverse": true, "nice": false, "zero": false},
      "axis": {"values": [4, 3.5, 3, 2.5, 2, 1.5, 1, 0.607], "labelExpr": "datum.value < 0.7 ? 'ppm' : format(datum.value, '.1f')", "title": null, "grid": false, "domainColor": "#1a1a1a", "domainWidth": 2.8, "tickColor": {"condition": {"test": "datum.value < 0.7", "value": "transparent"}, "value": "#1a1a1a"}, "tickWidth": 2.8, "tickSize": 15, "labelFont": "Liberation Sans", "labelFontSize": 35, "labelColor": "#333333", "labelPadding": 20, "labelFlush": false, "labelOverlap": false, "labelBound": false}},
    "y": {"field": "signal", "type": "quantitative", "scale": {"domain": [0, 185], "nice": false, "zero": false}, "axis": null}
  },
  "layer": [
    {"data": {"name": "A"}, "mark": {"type": "line", "color": "#4A55A3", "strokeWidth": 5.5, "interpolate": "monotone", "strokeCap": "round", "strokeJoin": "round"}},
    {"data": {"name": "B"}, "mark": {"type": "line", "color": "#FFC000", "strokeWidth": 5.5, "interpolate": "monotone", "strokeCap": "round", "strokeJoin": "round"}},
    {"data": {"name": "C"}, "mark": {"type": "line", "color": "#FF0000", "strokeWidth": 5, "strokeCap": "round", "strokeJoin": "round"}},
    {"data": {"name": "D"}, "mark": {"type": "line", "color": "#0A64FA", "strokeWidth": 4, "strokeCap": "round", "strokeJoin": "round"}, "encoding": {"detail": {"field": "compound", "type": "nominal"}}},
    {"data": {"name": "E"}, "mark": {"type": "line", "color": "#1E1E1E", "strokeWidth": 4.8, "interpolate": "monotone", "strokeCap": "round", "strokeJoin": "round"}},
    {"data": {"name": "labels"}, "transform": [{"filter": "datum.kind == 'panel'"}],
     "mark": {"type": "text", "font": "Liberation Sans", "fontSize": 36, "align": "left", "baseline": "alphabetic", "color": "#2B2B2B"},
     "encoding": {"text": {"field": "label", "type": "nominal"}}},
    {"data": {"name": "labels"}, "transform": [{"filter": "datum.kind == 'note'"}],
     "mark": {"type": "text", "font": "DejaVu Sans", "fontSize": 31, "align": "center", "baseline": "alphabetic"},
     "encoding": {"text": {"field": "label", "type": "nominal"},
       "color": {"field": "series", "type": "nominal", "scale": {"domain": ["A", "B", "C", "D", "E"], "range": ["#4A55A3", "#FFC000", "#FF0000", "#0A64FA", "#2B2B2B"]}, "legend": null}}},
    {"data": {"name": "labels"}, "transform": [{"filter": "datum.kind == 'name'"}],
     "mark": {"type": "text", "font": "Liberation Sans", "fontSize": 35, "align": "left", "baseline": "alphabetic"},
     "encoding": {"text": {"field": "label", "type": "nominal"},
       "color": {"field": "series", "type": "nominal", "scale": {"domain": ["A", "B", "C", "D", "E"], "range": ["#4A55A3", "#FFC000", "#FF0000", "#0A64FA", "#2B2B2B"]}, "legend": null}}}
  ]
}
